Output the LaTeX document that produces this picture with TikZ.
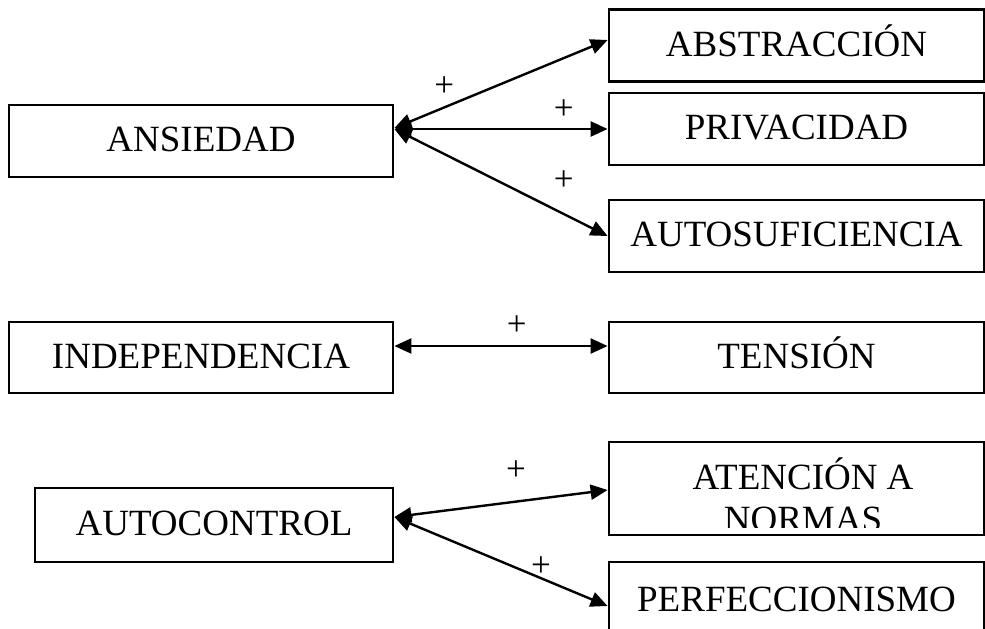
\documentclass[tikz,border=0pt]{standalone}
\usepackage{fontspec}
\setmainfont{Liberation Serif}
\usetikzlibrary{positioning,arrows.meta}

\begin{document}
\begin{tikzpicture}[x=1pt,y=-1pt,
  font=\fontsize{37}{42}\selectfont,
  box/.style={draw,line width=2.8pt,minimum width=375pt,minimum height=72pt,inner sep=0pt,
    align=center,text height=24.5pt,text depth=3pt},
  arr/.style={{Triangle[length=17pt,width=15pt]}-{Triangle[length=17pt,width=15pt]},line width=2.4pt},
  lbl/.style={font=\fontsize{35}{36}\selectfont,inner sep=0pt}]
  \useasboundingbox (0,0) rectangle (985,629);
  \clip (0,0) rectangle (985,629);

  % left column
  \node[box,minimum width=384pt,minimum height=72pt] (ans) at (201,141) {ANSIEDAD};
  \node[box,minimum width=384pt,minimum height=71pt] (indep) at (201,357.5) {INDEPENDENCIA};
  \node[box,minimum width=358pt,minimum height=74pt] (autoc) at (214,525) {AUTOCONTROL};

  % right column
  \node[box] (abs) at (796.5,45.5) {ABSTRACCIÓN};
  \node[box] (priv) at (796.5,129) {PRIVACIDAD};
  \node[box] (autos) at (796.5,236) {AUTOSUFICIENCIA};
  \node[box,minimum height=71pt] (tens) at (796.5,357.5) {TENSIÓN};
  \node[box,minimum height=93pt] (aten) at (796.5,488.5) {};
  \node[box,minimum height=78pt] (perf) at (796.5,601) {PERFECCIONISMO};
  \begin{scope}
    \clip ([shift={(1pt,-1pt)}]aten.north west) rectangle ([shift={(-1pt,9pt)}]aten.south east);
    \node[align=center,inner sep=0pt,anchor=base] (atentxt) at (803,531) {ATENCIÓN A\\NORMAS};
  \end{scope}

  \draw[arr] ([yshift=13pt]ans.east) -- node[lbl,pos=0.234,yshift=21pt]{+} ([yshift=5.5pt]abs.west);
  \draw[arr] ([yshift=12pt]ans.east) -- node[lbl,pos=0.794,yshift=19pt]{+} (priv.west);
  \draw[arr] ([yshift=12pt]ans.east) -- node[lbl,pos=0.794,yshift=33pt]{+} (autos.west);
  \draw[arr] ([yshift=11.5pt]indep.east) -- node[lbl,pos=0.574,yshift=20pt]{+} ([yshift=11.5pt]tens.west);
  \draw[arr] ([yshift=8pt]autoc.east) -- node[lbl,pos=0.57,yshift=31pt]{+} ([yshift=-1.5pt]aten.west);
  \draw[arr] ([yshift=8pt]autoc.east) -- node[lbl,pos=0.687,yshift=12pt]{+} ([yshift=-5pt]perf.west);
\end{tikzpicture}
\end{document}
